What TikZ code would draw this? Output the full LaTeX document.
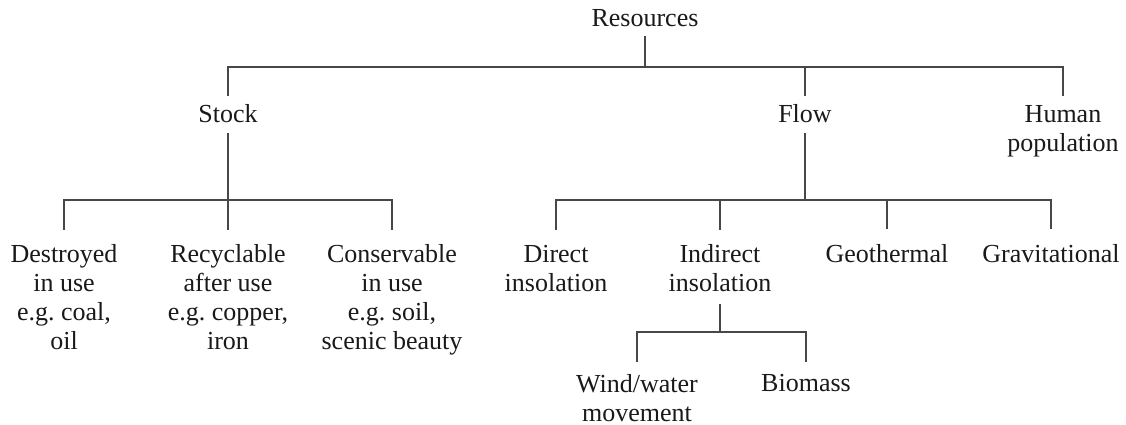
\documentclass[tikz,border=0pt]{standalone}
\usepackage{fontspec}
\setmainfont{Liberation Serif}
\begin{document}
\begin{tikzpicture}[x=1pt,y=-1pt,
  lbl/.style={inner sep=0pt,align=center,text=black!90,
    font=\fontsize{26}{29}\selectfont\frenchspacing},
  one/.style={lbl,anchor=base},
  multi/.style={lbl,anchor=north},
  conn/.style={draw=black!72,line width=1.1pt}]
\useasboundingbox (0,0) rectangle (1126,425);
% nodes
\node[one] (res) at (645,27) {Resources};
\node[one] (stock) at (228,122) {Stock};
\node[one] (flow) at (805,122) {Flow};
\node[multi] (human) at (1063,105) {Human\\population};
\node[multi] (destroyed) at (64,244.5) {Destroyed\\in use\\e.g. coal,\\oil};
\node[multi] (recyclable) at (228,244.5) {Recyclable\\after use\\e.g. copper,\\iron};
\node[multi] (conservable) at (392,244.5) {Conservable\\in use\\e.g. soil,\\scenic beauty};
\node[multi] (direct) at (556,245) {Direct\\insolation};
\node[multi] (indirect) at (720,244.5) {Indirect\\insolation};
\node[one] (geo) at (887,262) {Geothermal};
\node[one] (grav) at (1051,262) {Gravitational};
\node[multi] (wind) at (637,374) {Wind/water\\movement};
\node[one] (bio) at (806,391) {Biomass};
% bar levels
\coordinate (bar0) at (645,67);
\coordinate (bar1) at (228,200);
\coordinate (bar2) at (805,200);
\coordinate (bar3) at (720,332);
% connectors
\draw[conn] ([yshift=-9pt]res.south) -- (res.south |- bar0);
\draw[conn] ([yshift=8pt]stock.north) -- (stock.north |- bar0) -- (human.north |- bar0) -- ([yshift=9pt]human.north);
\draw[conn] ([yshift=8pt]flow.north) -- (flow.north |- bar0);
\draw[conn] ([yshift=-11pt]stock.south) -- (stock.south |- bar1);
\draw[conn] ([yshift=15pt]destroyed.north) -- (destroyed.north |- bar1) -- (conservable.north |- bar1) -- ([yshift=15pt]conservable.north);
\draw[conn] ([yshift=15pt]recyclable.north) -- (recyclable.north |- bar1);
\draw[conn] ([yshift=-11pt]flow.south) -- (flow.south |- bar2);
\draw[conn] ([yshift=15pt]direct.north) -- (direct.north |- bar2) -- (grav.north |- bar2) -- ([yshift=15pt]grav.north);
\draw[conn] ([yshift=15pt]indirect.north) -- (indirect.north |- bar2);
\draw[conn] ([yshift=15pt]geo.north) -- (geo.north |- bar2);
\draw[conn] ([yshift=-12pt]indirect.south) -- (indirect.south |- bar3);
\draw[conn] ([yshift=12pt]wind.north) -- (wind.north |- bar3) -- (bio.north |- bar3) -- ([yshift=12pt]bio.north);
\end{tikzpicture}
\end{document}
